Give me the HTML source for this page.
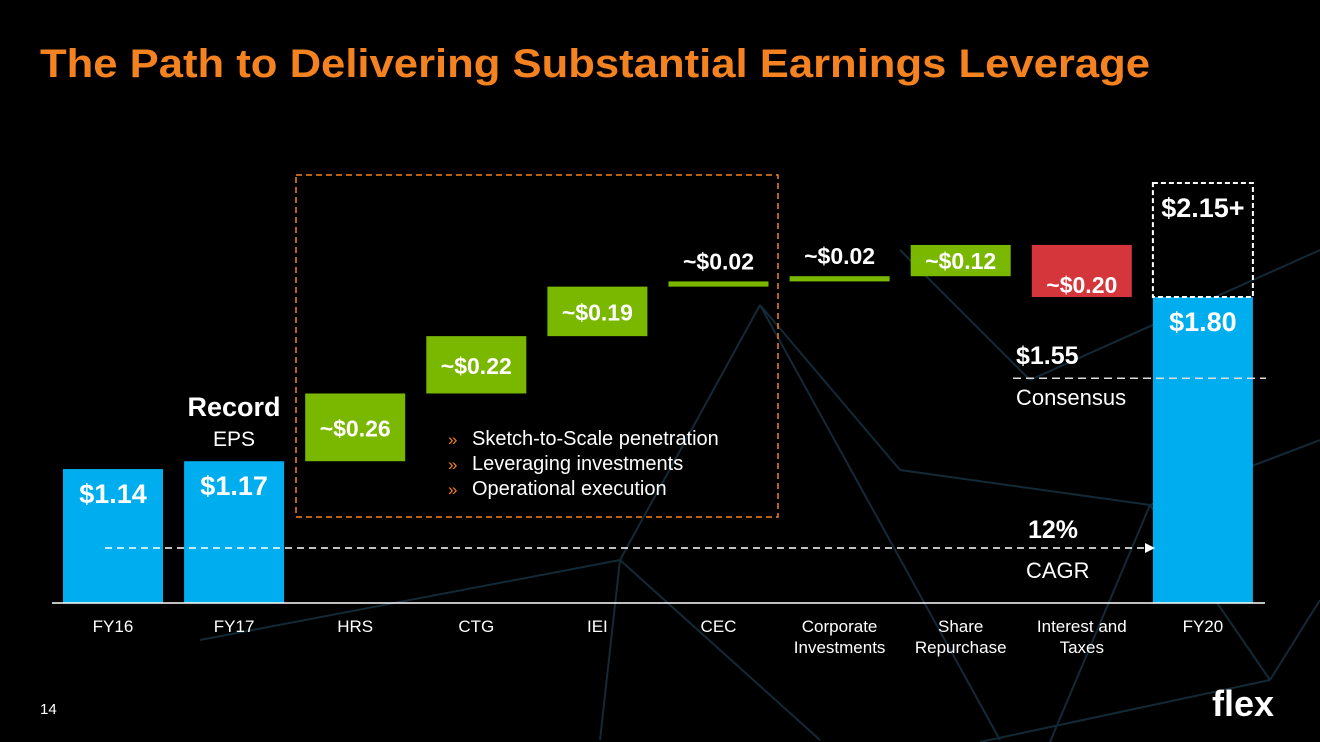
<!DOCTYPE html>
<html><head><meta charset="utf-8"><style>
body{margin:0;background:#000;}
svg{display:block;font-family:"Liberation Sans",sans-serif;}
</style></head><body>
<svg id="c" width="1320" height="742" viewBox="0 0 1320 742">
<rect width="1320" height="742" fill="#000"/>
<g id="bg" stroke="#2a5a78" stroke-width="2" opacity="0.45" fill="none">
<path d="M760 305 L1000 740 M760 305 L620 560 M760 305 L900 470 M620 560 L820 740 M1150 505 L1320 440 M1150 505 L900 470 M1150 505 L1050 742 M1270 680 L1150 505 M600 740 L620 560 M1030 380 L1320 250 M1030 380 L900 250 M1270 680 L1320 600 M200 640 L620 560 M1270 680 L980 742"/>
</g>
<text x="40" y="77" fill="#f58220" font-size="40" font-weight="bold" textLength="1110" lengthAdjust="spacingAndGlyphs">The Path to Delivering Substantial Earnings Leverage</text>
<g id="plot"></g>
<text x="40" y="714" fill="#fff" font-size="15">14</text>
<text x="1212" y="716" fill="#fff" font-size="36" font-weight="bold">flex</text>
</svg>
<script>
const categories=["FY16","FY17","HRS","CTG","IEI","CEC","Corporate|Investments","Share|Repurchase","Interest and|Taxes","FY20"];
const values=[1.14,1.17,0.26,0.22,0.19,0.02,0.02,0.12,-0.20,1.80];
const kinds=["total","total","delta","delta","delta","delta","delta","delta","delta","total"];
const labels=["$1.14","$1.17","~$0.26","~$0.22","~$0.19","~$0.02","~$0.02","~$0.12","~$0.20","$1.80"];
const target=2.15, consensus=1.55;
const NS="http://www.w3.org/2000/svg";
const g=document.getElementById('plot');
const base=603;
const y=v=>base-(v-0.626)*260.6;
const xc=i=>113+i*121.1;
function el(t,a,txt){const e=document.createElementNS(NS,t);for(const k in a)e.setAttribute(k,a[k]);if(txt!=null)e.textContent=txt;g.appendChild(e);return e;}
let cum=0;
categories.forEach((c,i)=>{
  const v=values[i];let top,bot,fill;
  if(kinds[i]==="total"){top=y(v);bot=base;cum=v;fill="#00aeef";}
  else{const s=cum;cum+=v;top=y(Math.max(s,cum));bot=y(Math.min(s,cum));fill=v<0?"#d4363c":"#7ab800";}
  const h=Math.max(bot-top,4);
  const r=el('rect',{x:xc(i)-50,y:top,width:100,height:h,fill:fill});
  
  
  let ly;
  if(kinds[i]==="total")ly=top+34;else if(h<10)ly=top-12;else if(v<0)ly=bot-4;else ly=top+h/2+9;
  if(i===7)ly=top+24;
  const t=el('text',{x:xc(i),y:ly,fill:"#fff","font-size":kinds[i]==="total"?27:23,"font-weight":"bold","text-anchor":"middle"},labels[i]);
  
  
  c.split('|').forEach((ln,j)=>{
    const a=el('text',{x:xc(i),y:632+j*21,fill:"#fff","font-size":17,"text-anchor":"middle"},ln);
    
    
  });
});
el('line',{x1:52,y1:base,x2:1265,y2:base,stroke:"#fff","stroke-width":1.5});
const ti=9, ty=183;
const tb=el('rect',{x:xc(ti)-50,y:ty,width:100,height:y(values[9])-ty,fill:"none",stroke:"#fff","stroke-width":2,"stroke-dasharray":"5,3"});


el('text',{x:xc(ti),y:ty+34,fill:"#fff","font-size":27,"font-weight":"bold","text-anchor":"middle"},"$"+target+"+");
const cy=y(consensus)+16;
el('line',{x1:1013,y1:cy,x2:1266,y2:cy,stroke:"#ddd","stroke-width":1.5,"stroke-dasharray":"8,5"});
el('text',{x:1016,y:364,fill:"#fff","font-size":25,"font-weight":"bold"},"$"+consensus.toFixed(2));
el('text',{x:1016,y:405,fill:"#fff","font-size":22},"Consensus");
el('line',{x1:105,y1:548,x2:1145,y2:548,stroke:"#fff","stroke-width":1.5,"stroke-dasharray":"7,5"});
el('polygon',{points:"1145,543 1155,548 1145,553",fill:"#fff"});
el('text',{x:1028,y:538,fill:"#fff","font-size":25,"font-weight":"bold"},"12%");
el('text',{x:1026,y:578,fill:"#fff","font-size":22},"CAGR");
el('text',{x:234,y:416,fill:"#fff","font-size":27,"font-weight":"bold","text-anchor":"middle"},"Record");
el('text',{x:234,y:446,fill:"#fff","font-size":21,"text-anchor":"middle"},"EPS");
const ob=el('rect',{x:296,y:175,width:482,height:342,fill:"none",stroke:"#f58220","stroke-width":1.5,"stroke-dasharray":"6,4"});


["Sketch-to-Scale penetration","Leveraging investments","Operational execution"].forEach((b,j)=>{
  el('text',{x:448,y:445+j*25,fill:"#f58220","font-size":17},"»");
  el('text',{x:472,y:445+j*25,fill:"#fff","font-size":20},b);
});
</script>
</body></html>
